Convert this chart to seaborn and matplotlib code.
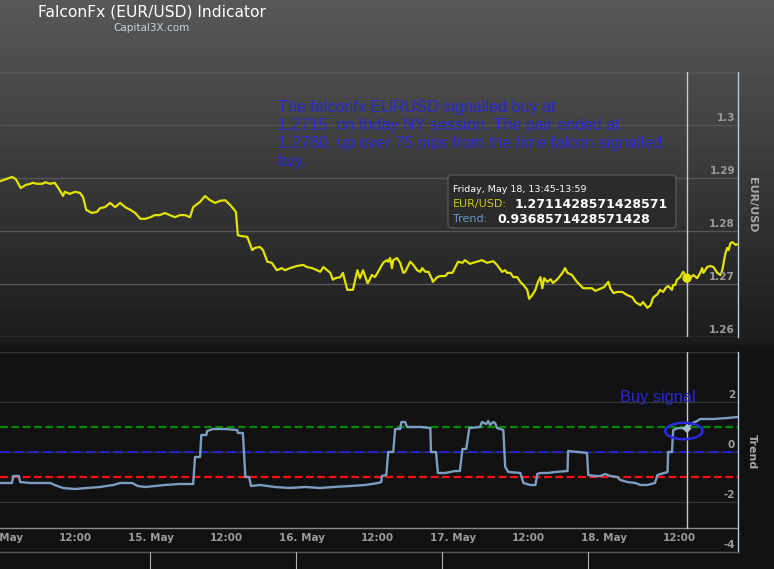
import numpy as np
import matplotlib
matplotlib.use('Agg')
import matplotlib.pyplot as plt
from matplotlib.patches import Ellipse, FancyBboxPatch
import seaborn as sns

# hours counted from 14 May 00:00
price_hours = [0.0, 1.0, 1.9, 2.5, 3.3, 4.1, 4.8, 5.2, 5.9, 6.7, 7.2, 8.0, 8.7, 9.5, 10.0, 10.3, 11.1, 11.9,
               12.7, 13.2, 13.7, 14.6, 15.4, 15.9, 16.7, 17.5, 18.3, 19.1, 19.9, 20.7, 21.5, 22.3, 23.1, 23.9,
               24.6, 25.4, 26.2, 27.0, 27.8, 28.6, 29.4, 30.2, 30.7, 31.8, 32.6, 33.4, 34.2, 35.0, 35.8, 36.6,
               37.5, 37.8, 38.6, 39.3, 40.1, 40.5, 41.3, 41.8, 42.5, 43.2, 44.0, 44.8, 45.3, 46.1, 47.2, 48.2,
               48.8, 49.6, 50.4, 50.9, 51.4, 52.5, 52.9, 53.3, 54.1, 54.5, 55.2, 56.1, 56.8, 57.2, 57.7, 58.4,
               58.5, 59.1, 59.6, 60.1, 60.9, 61.5, 61.7, 62.0, 62.3, 62.5, 63.1, 63.6, 64.1, 64.4, 65.2, 65.7,
               66.3, 66.8, 67.1, 67.6, 68.1, 68.7, 68.8, 69.5, 70.0, 70.8, 71.2, 71.9, 72.3, 72.8, 73.5, 73.9,
               74.7, 75.2, 75.8, 76.6, 77.4, 78.4, 79.0, 79.8, 80.3, 80.6, 81.1, 81.6, 82.2, 82.7, 83.2, 83.8,
               84.1, 84.6, 85.1, 85.5, 85.9, 86.2, 86.5, 87.0, 87.5, 87.9, 88.6, 89.4, 89.8, 90.2, 90.9, 91.7,
               92.2, 92.7, 93.3, 94.1, 94.6, 95.4, 96.0, 96.7, 97.0, 97.5, 98.1, 98.9, 99.7, 100.5, 101.0,
               101.8, 102.2, 102.9, 103.4, 103.8, 104.5, 104.9, 105.4, 105.9, 106.2, 106.8, 107.0, 107.3,
               107.6, 108.1, 108.6, 109.2, 109.7, 110.2, 110.8, 111.3, 111.6, 111.8, 112.4, 112.9, 113.4,
               114.0, 114.5, 114.8, 115.3, 115.6, 115.8, 116.1, 116.4, 116.9, 117.3]
price_values = [1.2894, 1.2898, 1.2902, 1.2898, 1.2881, 1.2887, 1.2889, 1.2891, 1.2889, 1.2889, 1.2892, 1.2889,
                1.2891, 1.2877, 1.2866, 1.2874, 1.2870, 1.2874, 1.2872, 1.2864, 1.2840, 1.2834, 1.2836, 1.2843,
                1.2845, 1.2853, 1.2845, 1.2853, 1.2845, 1.2840, 1.2834, 1.2823, 1.2823, 1.2826, 1.2830, 1.2830,
                1.2834, 1.2830, 1.2826, 1.2830, 1.2830, 1.2826, 1.2845, 1.2855, 1.2866, 1.2858, 1.2853, 1.2857,
                1.2858, 1.2849, 1.2836, 1.2792, 1.2790, 1.2789, 1.2764, 1.2768, 1.2770, 1.2764, 1.2742, 1.2740,
                1.2726, 1.2730, 1.2726, 1.2730, 1.2734, 1.2736, 1.2732, 1.2730, 1.2726, 1.2723, 1.2732, 1.2721,
                1.2708, 1.2711, 1.2713, 1.2721, 1.2689, 1.2689, 1.2726, 1.2711, 1.2726, 1.2702, 1.2702, 1.2717,
                1.2713, 1.2723, 1.2740, 1.2745, 1.2742, 1.2749, 1.2730, 1.2745, 1.2749, 1.2740, 1.2721, 1.2723,
                1.2742, 1.2736, 1.2726, 1.2723, 1.2730, 1.2723, 1.2723, 1.2708, 1.2704, 1.2713, 1.2715, 1.2715,
                1.2721, 1.2721, 1.2730, 1.2742, 1.2740, 1.2745, 1.2738, 1.2740, 1.2742, 1.2745, 1.2740, 1.2743,
                1.2736, 1.2723, 1.2726, 1.2721, 1.2721, 1.2713, 1.2713, 1.2704, 1.2698, 1.2689, 1.2672, 1.2679,
                1.2689, 1.2704, 1.2713, 1.2692, 1.2711, 1.2704, 1.2709, 1.2702, 1.2709, 1.2721, 1.2730, 1.2721,
                1.2717, 1.2704, 1.2698, 1.2692, 1.2692, 1.2692, 1.2687, 1.2691, 1.2694, 1.2704, 1.2692, 1.2683,
                1.2685, 1.2685, 1.2679, 1.2675, 1.2666, 1.2660, 1.2666, 1.2655, 1.2660, 1.2674, 1.2681, 1.2689,
                1.2685, 1.2694, 1.2696, 1.2689, 1.2698, 1.2698, 1.2708, 1.2713, 1.2723, 1.2711, 1.2711, 1.2717,
                1.2711, 1.2721, 1.2730, 1.2721, 1.2732, 1.2734, 1.2732, 1.2721, 1.2717, 1.2726, 1.2758, 1.2768,
                1.2764, 1.2777, 1.2779, 1.2774, 1.2775]

trend_hours = [0.0, 1.9, 2.1, 3.0, 3.2, 4.8, 6.4, 8.0, 8.7, 10.0, 11.9, 13.8, 15.9, 18.0, 19.1, 21.0, 21.9, 23.1,
               24.6, 26.2, 28.6, 30.7, 31.0, 31.8, 32.0, 32.8, 32.9, 33.9, 35.8, 37.7, 37.8, 38.6, 39.0, 39.6,
               39.9, 41.3, 43.7, 46.1, 48.5, 50.9, 52.9, 55.7, 58.0, 60.1, 60.6, 60.7, 61.4, 61.7, 62.5, 62.8,
               63.6, 63.8, 64.4, 64.7, 66.8, 68.4, 68.5, 69.3, 69.6, 70.8, 72.3, 73.1, 73.5, 74.1, 74.6, 76.3,
               76.6, 77.3, 77.6, 77.9, 78.4, 78.7, 79.0, 80.0, 80.3, 80.8, 82.7, 83.2, 84.3, 85.1, 85.4, 85.9,
               87.1, 88.2, 90.2, 90.3, 91.9, 93.3, 93.5, 94.6, 95.4, 96.2, 97.0, 98.1, 98.6, 99.7, 101.0, 101.8,
               102.9, 104.1, 104.5, 106.1, 106.2, 106.8, 107.0, 107.8, 109.2, 110.1, 110.8, 111.3, 113.4,
               115.6, 117.3]
trend_values = [-1.24, -1.24, -0.96, -0.96, -1.20, -1.24, -1.24, -1.24, -1.32, -1.44, -1.48, -1.44, -1.40, -1.32,
                -1.24, -1.24, -1.36, -1.40, -1.36, -1.32, -1.28, -1.28, -0.20, -0.20, 0.68, 0.68, 0.84, 0.92,
                0.92, 0.88, 0.76, 0.76, -1.00, -1.00, -1.36, -1.32, -1.40, -1.44, -1.40, -1.44, -1.40, -1.36,
                -1.32, -1.24, -1.20, -0.96, -0.92, 0.00, 0.00, 0.92, 0.92, 1.20, 1.20, 1.00, 1.00, 0.96, 0.00,
                0.00, -0.84, -0.84, -0.76, -0.76, 0.12, 0.12, 0.96, 1.00, 1.20, 1.12, 1.24, 1.08, 1.20, 1.16,
                0.96, 0.88, -0.60, -0.80, -0.84, -1.24, -1.32, -1.32, -0.88, -0.84, -0.84, -0.80, -0.76, 0.04,
                0.00, -0.04, -0.92, -0.96, -0.96, -0.88, -0.96, -1.00, -1.12, -1.20, -1.24, -1.32, -1.32, -1.24,
                -0.92, -0.80, 0.00, 0.00, 0.88, 0.96, 0.94, 1.16, 1.24, 1.32, 1.32, 1.36, 1.40]

tick_hours = [0, 12, 24, 36, 48, 60, 72, 84, 96, 108]
tick_labels = ['14. May', '12:00', '15. May', '12:00', '16. May', '12:00', '17. May', '12:00', '18. May', '12:00']
price_grid = [1.26, 1.27, 1.28, 1.29, 1.30, 1.31]
price_labels = ['1.26', '1.27', '1.28', '1.29', '1.3']
trend_grid = [-4, -2, 0, 2, 4]
trend_labels = ['-4', '-2', '0', '2']
levels = [1, 0, -1]
level_colors = ['#008a00', '#2323ee', '#ff1010']

cross_hour = 109.2
tip_date = 'Friday, May 18, 13:45-13:59'
tip_price = '1.2711428571428571'
tip_trend = '0.9368571428571428'
note_lines = ['The falconfx EURUSD signalled buy at',
              '1.2715  on friday NY session. The pair ended at',
              '1.2780, up over 75 pips from the time falcon signalled',
              'buy.']

W, H = 774, 569
sns.set_theme(style='dark')
plt.rcParams['font.family'] = ['DejaVu Sans']

fig = plt.figure(figsize=(W / 100, H / 100), dpi=100)

# background gradient
bg = fig.add_axes([0, 0, 1, 1], zorder=-10)
shade = np.interp(np.arange(H), [0, 340, 348, H], [88, 28, 18, 17])
bg.imshow(np.repeat(shade[:, None], W, axis=1), cmap='gray', vmin=0, vmax=255,
          aspect='auto', extent=[0, 1, 0, 1], interpolation='nearest')
bg.axis('off')

ax1 = fig.add_axes([0, 1 - 337 / H, 738 / W, 265 / H])
ax2 = fig.add_axes([0, 1 - 552 / H, 738 / W, 200 / H])
xmax = price_hours[-1]

for ax in (ax1, ax2):
    ax.set_facecolor('none')
    ax.set_xlim(0, xmax)
    for side in ('top', 'left', 'bottom'):
        ax.spines[side].set_visible(False)
    ax.spines['right'].set_visible(True)
    ax.spines['right'].set_color('#b8cce0')
    ax.spines['right'].set_linewidth(1)
    ax.tick_params(left=False, bottom=False, right=False, labelleft=False, labelbottom=False)

# price panel
ax1.set_ylim(1.26, 1.31)
ax1.set_yticks(price_grid)
ax1.set_xticks([])
ax1.grid(axis='y', color='#555555', linewidth=1)
sns.lineplot(x=price_hours, y=price_values, ax=ax1, color='#e3e300', linewidth=1.6,
             estimator=None, sort=False)
ax1.axvline(cross_hour, color='#c8c8c8', linewidth=1)
i_cross = int(np.argmin(np.abs(np.array(price_hours) - cross_hour)))
sns.scatterplot(x=[price_hours[i_cross]], y=[price_values[i_cross]], ax=ax1, color='#e3e300',
                s=45, edgecolor='none', zorder=5)
for v, lab in zip(price_grid, price_labels):
    ax1.annotate(lab, (0.996, v), xycoords=ax1.get_yaxis_transform(), xytext=(0, 1.5),
                 textcoords='offset points', ha='right', va='bottom', color='#9a9a9a',
                 fontsize=7.5, fontweight='bold')
ax1.set_xlabel('')
ax1.set_ylabel('')

# trend panel
ax2.set_ylim(-4, 4)
ax2.set_yticks(trend_grid)
ax2.set_xticks([])
ax2.grid(axis='y', color='#333333', linewidth=1)
for lv, c in zip(levels, level_colors):
    ls = (0, (3.5, 1.6)) if lv != 0 else (0, (6, 2.5))
    lw = 1.6 if lv != 0 else 1.2
    ax2.axhline(lv, color=c, linewidth=lw, linestyle=ls, zorder=2)
sns.lineplot(x=trend_hours, y=trend_values, ax=ax2, color='#7b9dc2', linewidth=1.7,
             estimator=None, sort=False, zorder=3)
ax2.axvline(cross_hour, ymin=0.12, ymax=1, color='#c8c8c8', linewidth=1, zorder=4)
j_cross = int(np.argmin(np.abs(np.array(trend_hours) - cross_hour)))
sns.scatterplot(x=[trend_hours[j_cross]], y=[trend_values[j_cross]], ax=ax2, color='#a9bccf',
                marker='D', s=22, edgecolor='none', zorder=5)
ax2.add_patch(Ellipse((108.7, 0.84), 5.9, 0.66, fill=False, edgecolor='#2a2ae0', linewidth=1.8, zorder=6))
ax2.plot([0, 1], [0.12, 0.12], transform=ax2.transAxes, color='#8a8a8a', linewidth=1)
for v, lab in zip(trend_grid, trend_labels):
    ax2.annotate(lab, (0.996, v), xycoords=ax2.get_yaxis_transform(), xytext=(0, 1.5),
                 textcoords='offset points', ha='right', va='bottom', color='#9a9a9a',
                 fontsize=7.5, fontweight='bold')
for h, lab in zip(tick_hours, tick_labels):
    ax2.text(h, 0.07, lab, transform=ax2.get_xaxis_transform(), ha='center', va='center',
             color='#9a9a9a', fontsize=7.5, fontweight='bold')
ax2.set_xlabel('')
ax2.set_ylabel('')

# overlay in pixel coordinates
ov = fig.add_axes([0, 0, 1, 1], zorder=10)
ov.set_xlim(0, W)
ov.set_ylim(H, 0)
ov.axis('off')

ov.text(152, 12, 'FalconFx (EUR/USD) Indicator', color='white', fontsize=11.2, ha='center', va='center')
ov.text(152, 28, 'Capital3X.com', color='#c8d2e2', fontsize=7.5, ha='center', va='center')
ov.text(752, 205, 'EUR/USD', color='#a8a8a8', fontsize=8, fontweight='bold', rotation=-90,
        ha='center', va='center')
ov.text(752, 452, 'Trend', color='#a8a8a8', fontsize=8, fontweight='bold', rotation=-90,
        ha='center', va='center')

note_font = ['Liberation Sans Narrow', 'Liberation Sans']
for k, line in enumerate(note_lines):
    ov.text(278, 107 + 18 * k, line, color='#2929d2', fontsize=11.6, family=note_font,
            ha='left', va='center')
ov.text(620, 397, 'Buy signal', color='#2929d8', fontsize=11.8, family=note_font,
        ha='left', va='center')

# navigator strip
ov.plot([0, 738], [552, 552], color='#555555', linewidth=1)
for nx in (150, 296, 442, 588):
    ov.plot([nx, nx], [552, H], color='#b0b0b0', linewidth=0.8)

# tooltip
ov.add_patch(FancyBboxPatch((450, 177), 224, 49, boxstyle='round,pad=2,rounding_size=4',
                            facecolor='#2a2a2a', edgecolor='#5a5a5a', linewidth=1, alpha=0.88))
ov.text(453, 189, tip_date, color='white', fontsize=6.8, ha='left', va='center')
ov.text(453, 204, 'EUR/USD:', color='#cccc10', fontsize=8, ha='left', va='center')
ov.text(515, 204, tip_price, color='white', fontsize=9, fontweight='bold', ha='left', va='center')
ov.text(453, 219, 'Trend:', color='#6a98c8', fontsize=8, ha='left', va='center')
ov.text(497, 219, tip_trend, color='white', fontsize=9, fontweight='bold', ha='left', va='center')

fig.savefig('out.png', dpi=100)
